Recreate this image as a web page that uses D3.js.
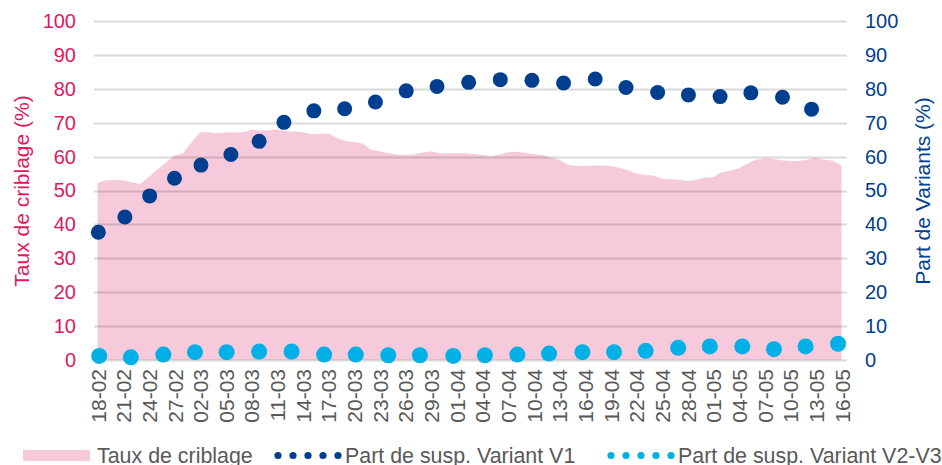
<!DOCTYPE html>
<head>
  <meta charset="utf-8" />
  <script src="https://d3js.org/d3.v7.min.js"></script>
  <style>
    body {
      margin: 0;
      background: #fff;
    }
    text {
      font-family: "Liberation Sans", Arial, sans-serif;
    }
  </style>
</head>

<body>
  <script>
    // libellés de l'axe des x (un tous les 3 jours)
    var tickLabels = ["18-02", "21-02", "24-02", "27-02", "02-03", "05-03", "08-03", "11-03", "14-03", "17-03",
      "20-03", "23-03", "26-03", "29-03", "01-04", "04-04", "07-04", "10-04", "13-04", "16-04",
      "19-04", "22-04", "25-04", "28-04", "01-05", "04-05", "07-05", "10-05", "13-05", "16-05"];

    // taux de criblage quotidien (%), du 18-02 au 16-05
    var tauxCriblage = [52.3, 53.0, 53.1, 53.0, 52.4, 51.9, 54.0, 56.2, 58.2, 60.3,
      61.0, 64.2, 67.2, 67.2, 66.9, 67.2, 67.1, 67.2, 67.9, 67.6,
      67.8, 68.0, 67.5, 67.4, 67.2, 66.6, 66.7, 66.8, 65.5, 64.6,
      64.3, 63.9, 62.0, 61.6, 61.0, 60.6, 60.5, 60.6, 61.2, 61.6,
      61.0, 60.9, 61.0, 61.0, 60.8, 60.5, 60.1, 60.6, 61.3, 61.4,
      61.1, 60.7, 60.5, 59.7, 59.1, 57.6, 57.3, 57.2, 57.4, 57.4,
      57.2, 56.7, 56.0, 55.0, 54.6, 54.4, 53.4, 53.3, 53.2, 52.8,
      53.1, 53.8, 53.9, 55.4, 55.8, 56.6, 57.9, 59.1, 59.5, 59.3,
      58.9, 58.7, 58.7, 59.1, 59.7, 59.1, 58.8, 57.4];

    // part de suspicion variant V1 (%) : jour (depuis le 18-02) et valeur
    var v1Jours = [0.1, 3.2, 6.1, 9.0, 12.1, 15.6, 18.9, 21.8, 25.3, 28.9,
      32.5, 36.1, 39.7, 43.4, 47.1, 50.8, 54.5, 58.2, 61.8, 65.5,
      69.1, 72.8, 76.4, 80.1, 83.5];
    var v1Valeurs = [37.7, 42.2, 48.4, 53.6, 57.5, 60.6, 64.5, 70.1, 73.5, 74.1,
      76.1, 79.4, 80.7, 81.9, 82.7, 82.5, 81.7, 82.9, 80.4, 78.9,
      78.2, 77.7, 78.8, 77.5, 74.0];

    // part de suspicion variant V2-V3 (%)
    var v23Jours = [0.2, 3.9, 7.7, 11.4, 15.1, 18.9, 22.7, 26.5, 30.2, 34.0,
      37.7, 41.6, 45.3, 49.1, 52.8, 56.7, 60.4, 64.1, 67.9, 71.6,
      75.4, 79.1, 82.8, 86.6];
    var v23Valeurs = [1.2, 0.8, 1.6, 2.3, 2.3, 2.5, 2.5, 1.6, 1.6, 1.4,
      1.4, 1.2, 1.4, 1.6, 1.9, 2.3, 2.3, 2.7, 3.6, 4.0,
      4.0, 3.2, 4.0, 4.8];

    var yTicks = [0, 10, 20, 30, 40, 50, 60, 70, 80, 90, 100];

    var width = 942,
      height = 465;

    var rose = "#e3165f",
      roseClair = "#f7cadb",
      bleu = "#003f8f",
      bleuClair = "#00b0e6",
      gris = "#595959";

    var svg = d3
      .select("body")
      .append("svg")
      .attr("width", width)
      .attr("height", height);

    var x = d3.scaleLinear().domain([0, tauxCriblage.length - 1]).range([97.5, 841.5]);
    var yL = d3.scaleLinear().domain([0, 100]).range([360, 21]);
    var yR = d3.scaleLinear().domain([0, 100]).range([360, 21]);

    // aire
    var area = d3
      .area()
      .x((d, i) => x(i))
      .y0(yL(0))
      .y1((d) => yL(d));
    svg.append("path").datum(tauxCriblage).attr("fill", roseClair).attr("d", area);

    // grille (par-dessus l'aire)
    svg
      .append("g")
      .selectAll("line")
      .data(yTicks)
      .join("line")
      .attr("x1", 94)
      .attr("x2", 847)
      .attr("y1", (d) => Math.round(yL(d)) + 0.5)
      .attr("y2", (d) => Math.round(yL(d)) + 0.5)
      .attr("stroke", "rgba(0,0,0,0.15)")
      .attr("stroke-width", 2);

    // axe gauche
    var axeG = svg
      .append("g")
      .attr("transform", "translate(76,0)")
      .call(d3.axisLeft(yL).tickValues(yTicks).tickSize(0).tickPadding(0));
    axeG.select(".domain").remove();
    axeG.selectAll("text").attr("fill", rose).style("font-size", "20px");

    // axe droit
    var axeD = svg
      .append("g")
      .attr("transform", "translate(865,0)")
      .call(d3.axisRight(yR).tickValues(yTicks).tickSize(0).tickPadding(0));
    axeD.select(".domain").remove();
    axeD.selectAll("text").attr("fill", bleu).style("font-size", "20px");

    // axe des x
    var axeX = svg
      .append("g")
      .attr("transform", "translate(0,369)")
      .call(
        d3
          .axisBottom(x)
          .tickValues(tickLabels.map((d, i) => i * 3))
          .tickFormat((d) => tickLabels[d / 3])
          .tickSize(0)
      );
    axeX.select(".domain").remove();
    axeX
      .selectAll("text")
      .attr("transform", "rotate(-90)")
      .attr("text-anchor", "end")
      .attr("x", 0)
      .attr("y", 0)
      .attr("dy", "0.36em")
      .attr("fill", gris)
      .style("font-size", "21px");

    // points
    svg
      .append("g")
      .selectAll("circle")
      .data(v1Valeurs)
      .join("circle")
      .attr("cx", (d, i) => x(v1Jours[i]))
      .attr("cy", (d) => yR(d))
      .attr("r", 7.5)
      .attr("fill", bleu);

    svg
      .append("g")
      .selectAll("circle")
      .data(v23Valeurs)
      .join("circle")
      .attr("cx", (d, i) => x(v23Jours[i]))
      .attr("cy", (d) => yR(d))
      .attr("r", 8)
      .attr("fill", bleuClair);

    // titres des axes
    svg
      .append("text")
      .attr("transform", "translate(29,191) rotate(-90)")
      .attr("text-anchor", "middle")
      .attr("fill", rose)
      .style("font-size", "21px")
      .text("Taux de criblage (%)");

    svg
      .append("text")
      .attr("transform", "translate(930,191) rotate(-90)")
      .attr("text-anchor", "middle")
      .attr("fill", bleu)
      .style("font-size", "21px")
      .text("Part de Variants (%)");

    // légende
    var leg = svg.append("g").attr("transform", "translate(0,455)");
    leg.append("rect").attr("x", 23).attr("y", -5).attr("width", 67).attr("height", 11).attr("fill", roseClair);
    leg.append("text").attr("x", 97).attr("y", 7.5).attr("fill", gris).style("font-size", "21.4px").text("Taux de criblage");

    [0, 1, 2, 3, 4].forEach(function (k) {
      leg.append("circle").attr("cx", 278 + k * 15).attr("cy", 0.5).attr("r", 3.6).attr("fill", bleu);
      leg.append("circle").attr("cx", 611 + k * 15).attr("cy", 0.5).attr("r", 3.6).attr("fill", bleuClair);
    });
    leg.append("text").attr("x", 345).attr("y", 7.5).attr("fill", gris).style("font-size", "21.4px").text("Part de susp. Variant V1");
    leg.append("text").attr("x", 678).attr("y", 7.5).attr("fill", gris).style("font-size", "21.4px").text("Part de susp. Variant V2-V3");
  </script>
</body>
